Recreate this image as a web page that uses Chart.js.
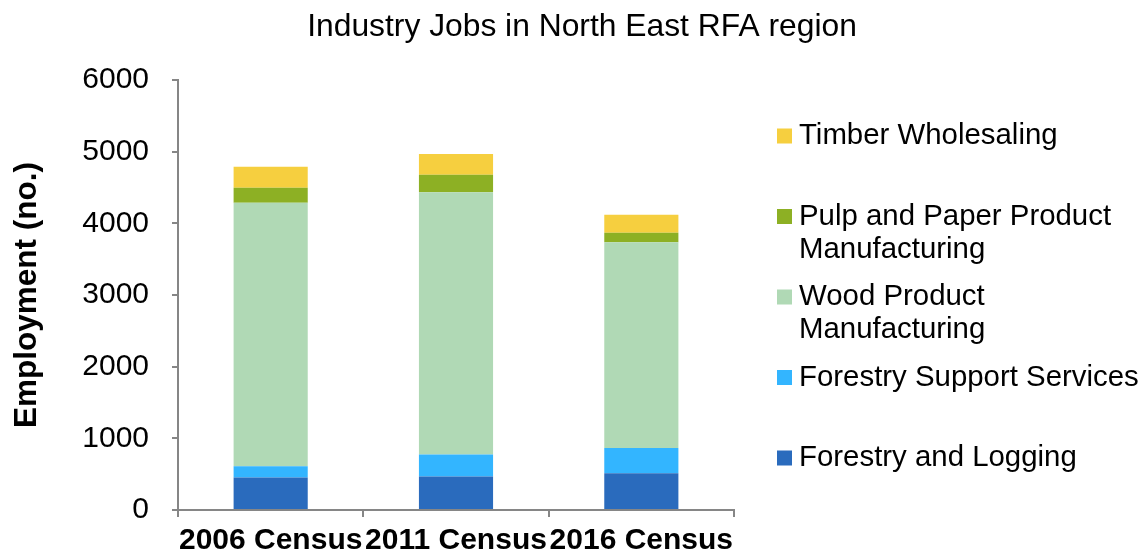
<!DOCTYPE html>
<html>
<head>
<meta charset="utf-8">
<script src="https://cdn.jsdelivr.net/npm/chart.js@4.4.0/dist/chart.umd.min.js"></script>
<style>
  html, body { margin: 0; padding: 0; background: #fff; }
  .chart__wrapper { width: 1144px; height: 557px; position: relative; }
</style>
</head>
<body>
<div class="chart__wrapper"><canvas id="jobsChart"></canvas></div>
<script>
"use strict";

const chartTitle = "Industry Jobs in North East RFA region";
const censusYears = ["2006 Census", "2011 Census", "2016 Census"];

const forestryLogging = [453, 467, 514];
const forestrySupport = [159, 309, 350];
const woodProduct = [3676, 3657, 2871];
const pulpPaper = [210, 246, 134];
const timberWholesale = [293, 288, 251];

const yTicks = [0, 1000, 2000, 3000, 4000, 5000, 6000];

const seriesNames = [
  "Forestry and Logging",
  "Forestry Support Services",
  "Wood Product Manufacturing",
  "Pulp and Paper Product Manufacturing",
  "Timber Wholesaling",
];
const seriesColors = ["#2a6bbd", "#33b5ff", "#b0d9b5", "#8db024", "#f6cf3f"];

const FONT = "'Liberation Sans', Arial, sans-serif";
const AXIS_GREY = "#868686";

// title centred on the whole canvas + legend on the right (top entry = last series)
const sideLegend = {
  id: "sideLegend",
  afterDraw(chart) {
    const ctx = chart.ctx;

    ctx.save();
    ctx.fillStyle = "#000";
    ctx.font = `31.8px ${FONT}`;
    ctx.textAlign = "center";
    ctx.textBaseline = "middle";
    ctx.fillText(chartTitle, 582, 27);
    ctx.restore();

    const boxX = 777;
    const textX = 799;
    const maxWidth = 1144 - textX;
    const firstY = 136;
    const step = 80.5;
    const lineGap = 33;

    ctx.save();
    ctx.font = `29.4px ${FONT}`;
    ctx.textBaseline = "middle";
    ctx.textAlign = "left";

    const order = chart.data.datasets.map((d, i) => i).reverse();
    order.forEach((dsIndex, row) => {
      const ds = chart.data.datasets[dsIndex];
      const y = firstY + row * step;

      ctx.fillStyle = ds.backgroundColor;
      ctx.fillRect(boxX, y - 7.5, 15, 15);

      // wrap words into lines
      const lines = [];
      let current = "";
      ds.label.split(" ").forEach((word) => {
        const test = current ? current + " " + word : word;
        if (ctx.measureText(test).width > maxWidth && current) {
          lines.push(current);
          current = word;
        } else {
          current = test;
        }
      });
      lines.push(current);

      ctx.fillStyle = "#000";
      lines.forEach((line, i) => {
        ctx.fillText(line, textX, y + i * lineGap);
      });
    });
    ctx.restore();
  },
};

const datasets = [forestryLogging, forestrySupport, woodProduct, pulpPaper, timberWholesale].map(
  (values, i) => ({
    label: seriesNames[i],
    data: values,
    backgroundColor: seriesColors[i],
    borderWidth: 0,
    categoryPercentage: 1,
    barPercentage: 0.4,
  })
);

const ctx = document.getElementById("jobsChart").getContext("2d");

new Chart(ctx, {
  type: "bar",
  data: {
    labels: censusYears,
    datasets: datasets,
  },
  options: {
    responsive: true,
    maintainAspectRatio: false,
    animation: false,
    layout: {
      padding: { left: 0, right: 410, top: 80, bottom: 0 },
    },
    plugins: {
      legend: { display: false },
      tooltip: { enabled: false },
      title: { display: false },
    },
    scales: {
      x: {
        stacked: true,
        grid: {
          display: true,
          drawOnChartArea: false,
          drawTicks: true,
          tickLength: 7,
          color: AXIS_GREY,
          lineWidth: 2,
        },
        border: { color: AXIS_GREY, width: 2 },
        ticks: {
          color: "#000",
          font: { family: FONT, size: 30, weight: "bold" },
          maxRotation: 0,
          minRotation: 0,
          autoSkip: false,
          padding: 6,
        },
        afterFit(scale) {
          scale.height = 47;
        },
      },
      y: {
        stacked: true,
        min: 0,
        max: 6000,
        afterBuildTicks(scale) {
          scale.ticks = yTicks.map((v) => ({ value: v }));
        },
        grid: {
          display: true,
          drawOnChartArea: false,
          drawTicks: true,
          tickLength: 6,
          color: AXIS_GREY,
          lineWidth: 2,
        },
        border: { color: AXIS_GREY, width: 2 },
        ticks: {
          color: "#000",
          font: { family: FONT, size: 30 },
          padding: 23,
          callback: (value) => String(value),
        },
        title: {
          display: true,
          text: "Employment (no.)",
          color: "#000",
          font: { family: FONT, size: 31.5, weight: "bold" },
          padding: { top: 8, bottom: 0 },
        },
        afterFit(scale) {
          scale.width = 178;
        },
      },
    },
  },
  plugins: [sideLegend],
});
</script>
</body>
</html>
